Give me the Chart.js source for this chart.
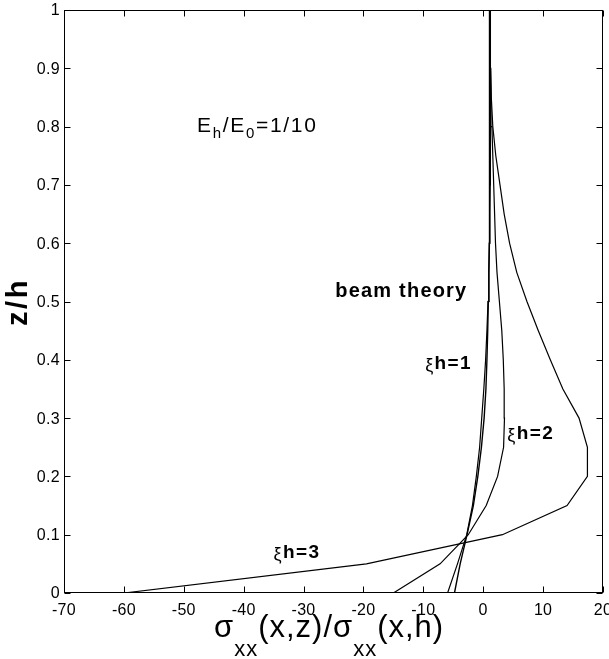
<!DOCTYPE html>
<html>
<head>
<meta charset="utf-8">
<script src="https://cdn.jsdelivr.net/npm/chart.js@4"></script>
<style>
  html, body { margin: 0; padding: 0; background: #ffffff; }
  canvas { display: block; }
</style>
</head>
<body>
<canvas id="chart" width="609" height="659"></canvas>
<script>
// Depth levels z/h shared by all profiles
const zLevels = [0, 0.05, 0.1, 0.15, 0.2, 0.25, 0.3, 0.35, 0.4, 0.45, 0.5,
                 0.55, 0.6, 0.65, 0.7, 0.75, 0.8, 0.85, 0.9, 0.95, 1];

// Normalised stress sigma_xx(x,z)/sigma_xx(x,h) at each depth level
const beamTheory = [-4.8, -3.85, -2.7, -1.65, -0.9, -0.3, 0.15, 0.45, 0.62, 0.75, 0.85,
                    0.93, 1.0, 1.05, 1.07, 1.08, 1.08, 1.06, 1.04, 1.02, 1.0];
const xiH1 = [-5.95, -4.3, -2.75, -1.8, -1.15, -0.6, -0.25, 0.1, 0.4, 0.62, 0.8,
              0.95, 1.05, 1.12, 1.17, 1.2, 1.2, 1.2, 1.2, 1.2, 1.2];
const xiH2 = [-15, -7.2, -2.5, 0.5, 2.4, 3.4, 3.55, 3.5, 3.35, 3.1, 2.7,
              2.3, 2.05, 1.9, 1.75, 1.6, 1.45, 1.3, 1.22, 1.2, 1.2];
const xiH3 = [-60, -19.5, 3.2, 14, 17.4, 17.4, 16, 13.3, 11.2, 9.2, 7.3,
              5.6, 4.4, 3.5, 2.8, 2.1, 1.6, 1.35, 1.25, 1.2, 1.2];

// Tick values and their printed labels
const xTickValues = [-70, -60, -50, -40, -30, -20, -10, 0, 10, 20];
const xTickLabels = ['-70', '-60', '-50', '-40', '-30', '-20', '-10', '0', '10', '20'];
const yTickValues = [0, 0.1, 0.2, 0.3, 0.4, 0.5, 0.6, 0.7, 0.8, 0.9, 1];
const yTickLabels = ['0', '0.1', '0.2', '0.3', '0.4', '0.5', '0.6', '0.7', '0.8', '0.9', '1'];

function profile(xs) {
  return zLevels.map((z, i) => ({ x: xs[i], y: z }));
}

function lineSet(label, xs, width) {
  return {
    label: label,
    data: profile(xs),
    showLine: true,
    borderColor: '#000000',
    backgroundColor: '#000000',
    borderWidth: width,
    pointRadius: 0,
    pointHoverRadius: 0,
    tension: 0,
    fill: false
  };
}

// Text pieces: [text, fontSize, baselineShift, weight]
function drawRuns(ctx, runs, x, y, family, spacing) {
  let cx = x;
  runs.forEach(r => {
    ctx.font = (r[3] || 'normal') + ' ' + r[1] + 'px ' + family;
    ctx.letterSpacing = spacing + 'px';
    ctx.fillText(r[0], cx, y + r[2]);
    cx += ctx.measureText(r[0]).width;
  });
}

const FONT = '"Liberation Sans", Arial, Helvetica, sans-serif';

const framePlugin = {
  id: 'frameAndText',
  afterDraw(chart) {
    const ctx = chart.ctx;
    const xs = chart.scales.x;
    const ys = chart.scales.y;
    const a = chart.chartArea;
    const L = Math.round(a.left) + 0.5, R = Math.round(a.right) - 0.5;
    const T = Math.round(a.top) + 0.5, B = Math.round(a.bottom) - 0.5;
    const tick = 6;

    ctx.save();
    ctx.strokeStyle = '#000000';
    ctx.lineWidth = 1;
    ctx.strokeRect(L, T, R - L, B - T);

    // inward ticks on all four sides
    ctx.beginPath();
    xTickValues.forEach(v => {
      const px = Math.round(xs.getPixelForValue(v)) + 0.5;
      ctx.moveTo(px, B); ctx.lineTo(px, B - tick);
      ctx.moveTo(px, T); ctx.lineTo(px, T + tick);
    });
    yTickValues.forEach(v => {
      const py = Math.round(ys.getPixelForValue(v)) + 0.5;
      ctx.moveTo(L, py); ctx.lineTo(L + tick, py);
      ctx.moveTo(R, py); ctx.lineTo(R - tick, py);
    });
    ctx.stroke();

    // tick labels
    ctx.fillStyle = '#000000';
    ctx.font = '16px ' + FONT;
    ctx.letterSpacing = '0.3px';
    ctx.textAlign = 'center';
    ctx.textBaseline = 'top';
    xTickValues.forEach((v, i) => {
      ctx.fillText(xTickLabels[i], xs.getPixelForValue(v), a.bottom + 10);
    });
    ctx.textAlign = 'right';
    ctx.textBaseline = 'middle';
    yTickValues.forEach((v, i) => {
      ctx.fillText(yTickLabels[i], a.left - 4, ys.getPixelForValue(v) + 1);
    });

    // x-axis title with subscripts
    ctx.textAlign = 'left';
    ctx.textBaseline = 'alphabetic';
    drawRuns(ctx, [
      ['\u03c3', 31, 0], ['xx', 22, 19], ['(x,z)/', 31, 0],
      ['\u03c3', 31, 0], ['xx', 22, 19], ['(x,h)', 31, 0]
    ], 214, 637, FONT, 1);

    // y-axis title
    ctx.save();
    ctx.translate(27, 303);
    ctx.rotate(-Math.PI / 2);
    ctx.textAlign = 'center';
    ctx.font = 'bold 29px ' + FONT;
    ctx.letterSpacing = '2.5px';
    ctx.fillText('z/h', 1, 0);
    ctx.restore();

    // annotations placed in data coordinates
    ctx.textAlign = 'left';
    ctx.textBaseline = 'alphabetic';
    const at = (x, z) => [xs.getPixelForValue(x), ys.getPixelForValue(z)];

    let p = at(-47.8, 0.79);
    drawRuns(ctx, [
      ['E', 21, 0], ['h', 15, 6], ['/E', 21, 0], ['0', 15, 6], ['=1/10', 21, 0]
    ], p[0], p[1], FONT, 1.7);

    p = at(-24.7, 0.508);
    drawRuns(ctx, [['beam theory', 20, 0, 'bold']], p[0], p[1], FONT, 1.2);

    p = at(-9.7, 0.385);
    drawRuns(ctx, [['\u03be', 18, 2, 'normal'], ['h=1', 19, 0, 'bold']], p[0], p[1], FONT, 1.4);

    p = at(4.0, 0.265);
    drawRuns(ctx, [['\u03be', 18, 2, 'normal'], ['h=2', 19, 0, 'bold']], p[0], p[1], FONT, 1.4);

    p = at(-35.0, 0.06);
    drawRuns(ctx, [['\u03be', 18, 2, 'normal'], ['h=3', 19, 0, 'bold']], p[0], p[1], FONT, 1.4);

    ctx.restore();
  }
};

new Chart(document.getElementById('chart'), {
  type: 'scatter',
  data: {
    datasets: [
      lineSet('beam theory', beamTheory, 1.4),
      lineSet('\u03beh=1', xiH1, 1.2),
      lineSet('\u03beh=2', xiH2, 1.2),
      lineSet('\u03beh=3', xiH3, 1.2)
    ]
  },
  options: {
    responsive: false,
    devicePixelRatio: 1,
    animation: false,
    layout: { padding: { left: 0, right: 6, top: 10, bottom: 0 } },
    plugins: {
      legend: { display: false },
      tooltip: { enabled: false },
      title: { display: false }
    },
    scales: {
      x: {
        type: 'linear',
        min: -70,
        max: 20,
        ticks: { display: false, stepSize: 10 },
        grid: { display: false, drawTicks: false },
        border: { display: false },
        afterFit(scale) { scale.height = 66; }
      },
      y: {
        type: 'linear',
        min: 0,
        max: 1,
        ticks: { display: false, stepSize: 0.1 },
        grid: { display: false, drawTicks: false },
        border: { display: false },
        afterFit(scale) { scale.width = 64; }
      }
    }
  },
  plugins: [framePlugin]
});
</script>
</body>
</html>
